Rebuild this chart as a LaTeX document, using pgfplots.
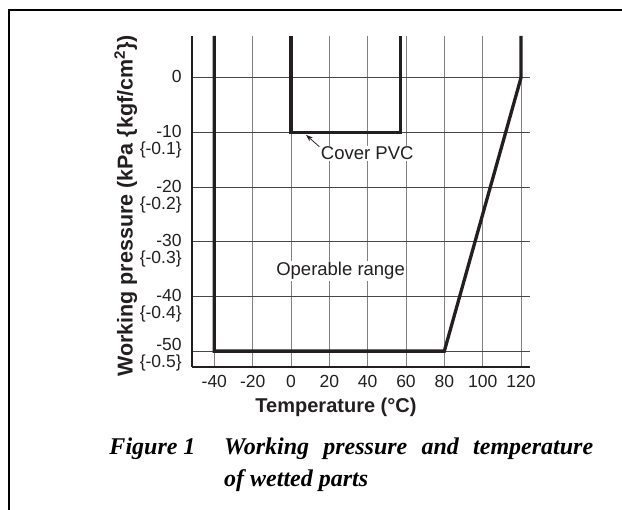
\documentclass[border=0pt]{standalone}
\usepackage{fontspec}
\setmainfont{Liberation Serif}
\setsansfont{Liberation Sans}
\usepackage{pgfplots}
\pgfplotsset{compat=1.18}
\usetikzlibrary{arrows.meta}
\definecolor{ink}{HTML}{231F20}
\begin{document}
\begin{tikzpicture}[x=1pt,y=1pt]
\begin{axis}[
  scale only axis, width=337.7pt, height=331pt,
  xmin=-51.5, xmax=124.7, ymin=-52.9, ymax=7.63,
  axis x line=bottom, axis y line=left,
  axis line style={line width=1.8pt, ink, -},
  xtick={-40,-20,0,20,40,60,80,100,120},
  xticklabels={-40,-20,0,20,40,60,80,100,120},
  ytick={-50,-40,-30,-20,-10,0},
  yticklabels={\raisebox{6pt}{-50},-40,-30,-20,-10,0},
  extra y ticks={-50,-40,-30,-20,-10},
  extra y tick labels={\raisebox{6pt}{\{-0.5\}},\{-0.4\},\{-0.3\},\{-0.2\},\{-0.1\}},
  extra y tick style={grid=none, yticklabel style={yshift=-17pt}},
  major tick length=0pt,
  grid=major,
  x grid style={line width=0.8pt, black!50},
  y grid style={line width=0.8pt, black!72},
  tick label style={font=\sffamily\fontsize{17.5}{19}\selectfont, inner sep=0pt, text=ink},
  xticklabel style={anchor=base, yshift=-21pt},
  yticklabel style={anchor=base east, xshift=-10.5pt, yshift=-5pt},
  xlabel={Temperature (°C)},
  ylabel={Working pressure (kPa \{kgf/cm\textsuperscript{2}\})},
  label style={inner sep=0pt, text=ink},
  xlabel style={font=\sffamily\bfseries\fontsize{20}{22}\selectfont, at={(axis description cs:0.4255,-0.1375)}, anchor=base},
  ylabel style={font=\sffamily\bfseries\fontsize{21.5}{23}\selectfont, at={(axis description cs:-0.177,0.4864)}, anchor=base},
]
\addplot[line width=3.3pt, ink, line join=miter] coordinates {(-40,7.63) (-40,-50) (80,-50) (120,0) (120,7.63)};
\addplot[line width=3.3pt, ink, line join=miter] coordinates {(0,7.63) (0,-10) (57,-10) (57,7.63)};
\node[anchor=base west, fill=white, inner sep=1pt, text=ink, font=\sffamily\fontsize{18.5}{20}\selectfont] at (axis cs:15.0,-15.0) {Cover PVC};
\node[anchor=base west, fill=white, inner sep=1pt, text=ink, font=\sffamily\fontsize{18.5}{20}\selectfont] at (axis cs:-8.3,-36.2) {Operable range};
\draw[-{Stealth[length=7pt,width=5pt]}, line width=0.8pt, ink] (axis cs:14.8,-12.62) -- (axis cs:7.84,-10.45);
\end{axis}
\pgfresetboundingbox
\begin{scope}[shift={(-192.3pt,-143pt)}]
\path[use as bounding box] (0,0) rectangle (622,510);
\draw[line width=2.4pt, black] (9,-5) -- (9,500) -- (630,500);
\node[anchor=base west, inner sep=0pt, font=\fontsize{24}{28}\selectfont\bfseries\itshape] at (109.3,55) {Figure 1};
\node[anchor=base west, inner sep=0pt, font=\fontsize{24}{28}\selectfont\bfseries\itshape] at (224,55) {\makebox[369pt][s]{Working pressure and temperature}};
\node[anchor=base west, inner sep=0pt, font=\fontsize{24}{28}\selectfont\bfseries\itshape] at (224,23) {of wetted parts};
\end{scope}
\end{tikzpicture}
\end{document}
